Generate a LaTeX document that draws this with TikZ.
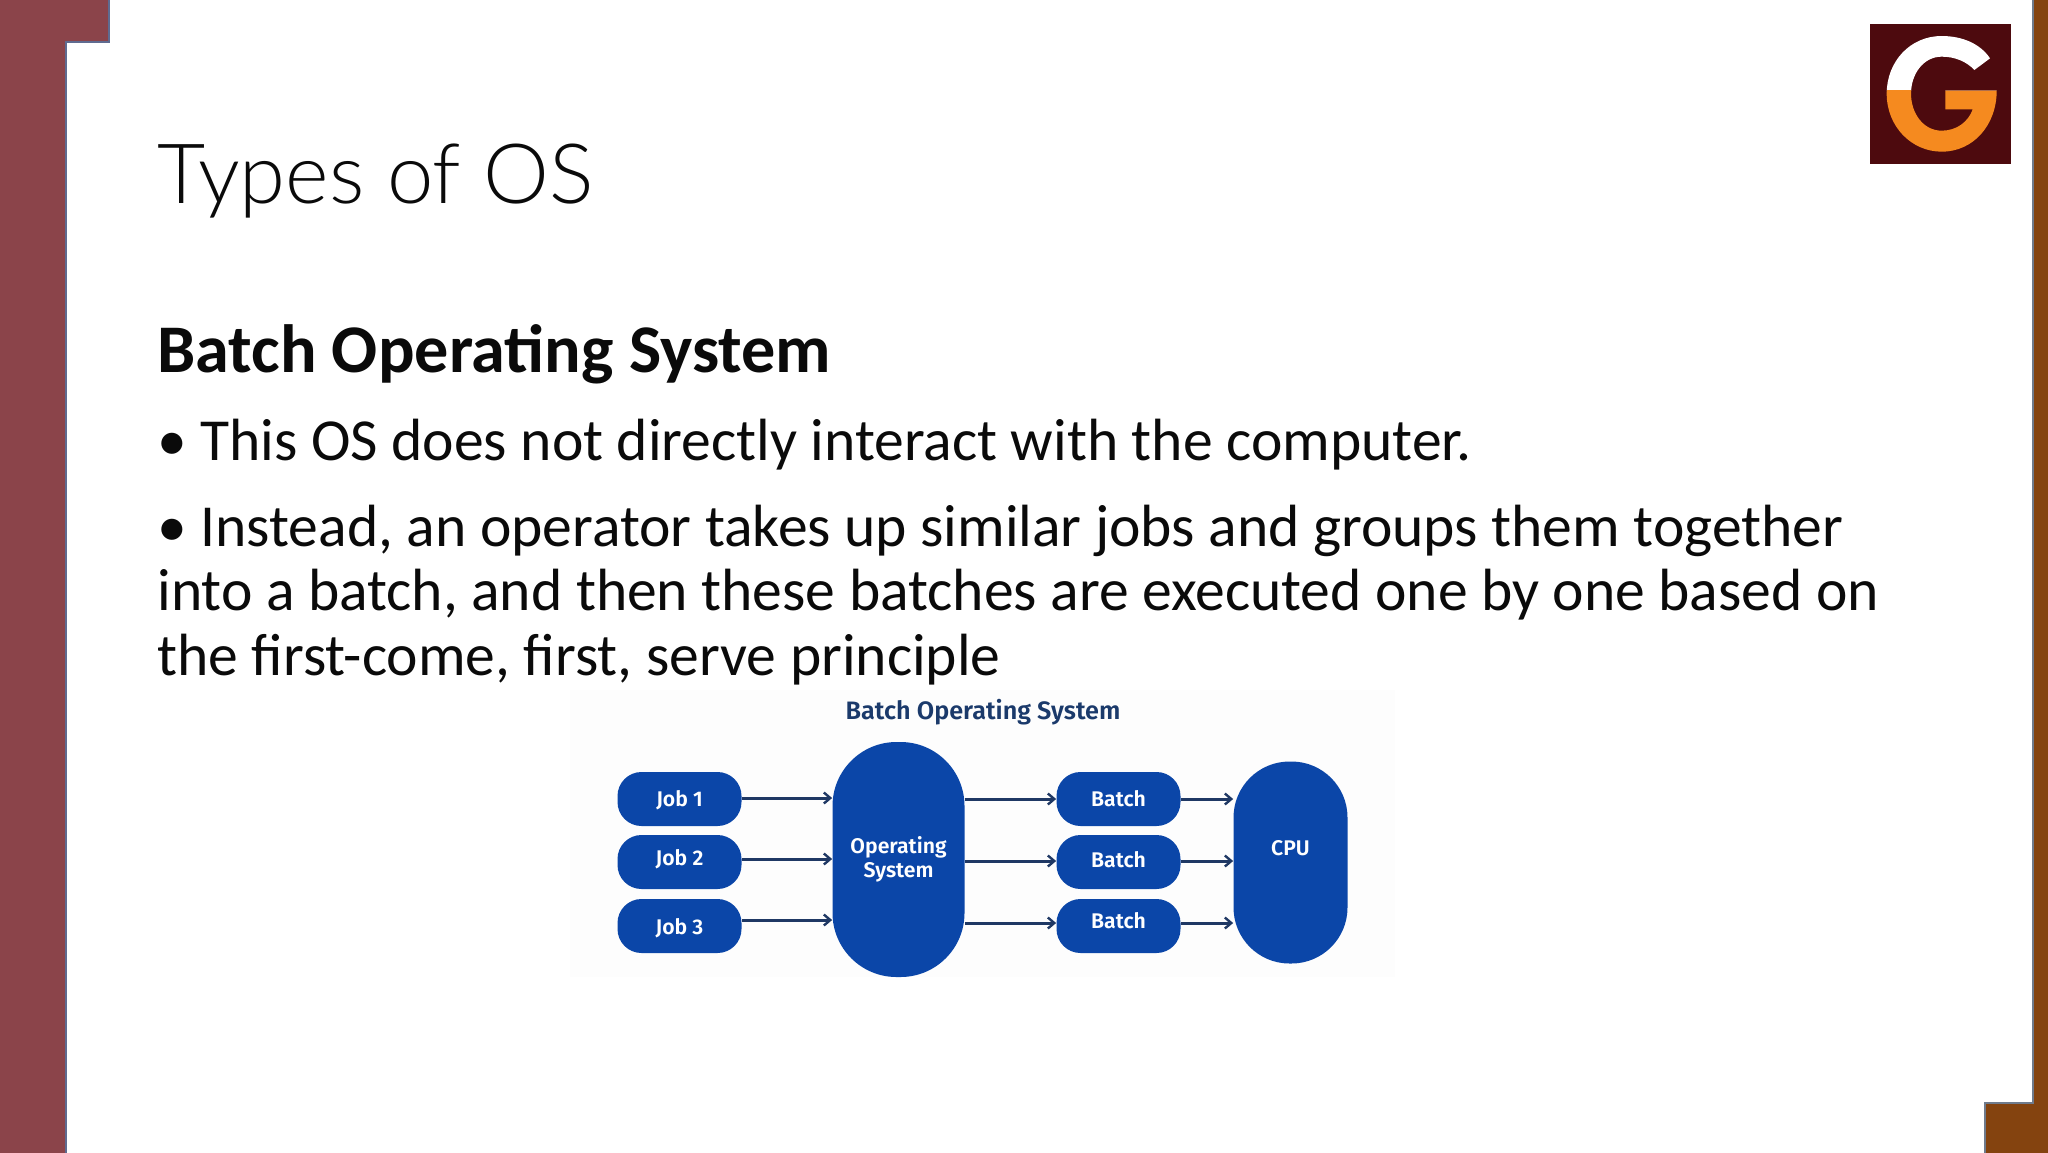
\documentclass[tikz,border=0pt]{standalone}
\usepackage{fontspec}
\setmainfont{Carlito}
\newfontfamily\titlefont{Lato Light}
\newfontfamily\diagfont{Fira Sans SemiBold}
\definecolor{frameL}{HTML}{8B444A}
\definecolor{frameLedge}{HTML}{5F6B90}
\definecolor{frameR}{HTML}{84430F}
\definecolor{frameRedge}{HTML}{6F7B8C}
\definecolor{logobg}{HTML}{4D0A0E}
\definecolor{logoor}{HTML}{F58A1F}
\definecolor{blueB}{HTML}{0B46A8}
\definecolor{navy}{HTML}{1F3864}
\definecolor{headnavy}{HTML}{1B3A6B}
\definecolor{ink}{HTML}{0A0A0A}
\newcommand{\lift}[2]{\raisebox{\dimexpr#1-0.35em\relax}[0pt][0pt]{#2}}
\usetikzlibrary{arrows.meta}
\tikzset{
  x=0.5pt,y=-0.5pt,
  slide/.style={anchor=base west,inner sep=0,text=ink},
  bodytext/.style={slide,font=\fontsize{29.8}{32}\selectfont},
  pill/.style={fill=blueB,inner sep=0,text=white,font=\diagfont\fontsize{10.6}{11.8}\selectfont,rounded corners=12pt,minimum width=62pt,minimum height=27pt},
  tallpill/.style={pill,rounded corners=32pt},
  link/.style={draw=navy,line width=1.5pt,-{Straight Barb[length=3.2pt,width=5.5pt,line width=1.2pt]}},
}
\begin{document}
\begin{tikzpicture}
\useasboundingbox (0,0) rectangle (2048,1152);
\fill[white] (0,0) rectangle (2048,1152);
% frames
\draw[fill=frameL,draw=frameLedge,line width=1pt] (-4,-4) -- (109,-4) -- (109,42) -- (66,42) -- (66,1156) -- (-4,1156) -- cycle;
\draw[fill=frameR,draw=frameRedge,line width=1pt] (2033,-4) -- (2052,-4) -- (2052,1156) -- (1985,1156) -- (1985,1103) -- (2033,1103) -- cycle;
% logo
\fill[logobg] (1870,24) rectangle (2011,164);
\begin{scope}[shift={(1840,0)},x=0.16667pt,y=-0.16667pt]
\def\gpath{(450,175) .. controls (420,130) and (365,108) .. (305,108)
  .. controls (210,108) and (140,185) .. (140,281)
  .. controls (140,380) and (215,455) .. (305,455)
  .. controls (400,455) and (470,375) .. (470,272)
  -- (316,272) -- (316,328) -- (398,328)
  .. controls (385,365) and (350,392) .. (305,392)
  .. controls (250,392) and (213,340) .. (213,281)
  .. controls (213,222) and (250,170) .. (305,170)
  .. controls (345,170) and (380,185) .. (403,210) -- cycle}
\begin{scope}\clip (100,60) rectangle (500,272); \fill[white] \gpath; \end{scope}
\begin{scope}\clip (100,272) rectangle (500,480); \fill[logoor] \gpath; \end{scope}
\end{scope}
% text
\node[slide,font=\titlefont\fontsize{41.6}{46}\selectfont] (title) at (157,203) {Types of OS};
\node[slide,font=\bfseries\fontsize{34.1}{38}\selectfont] (head) at (157,372) {Batch Operating System};
\node[bodytext] (l1) at (157,460.5) {• This OS does not directly interact with the computer.};
\node[bodytext] (l2) at (157,546.5) {• Instead, an operator takes up similar jobs and groups them together};
\node[bodytext] (l3) at (157,610.5) {into a batch, and then these batches are executed one by one based on};
\node[bodytext] (l4) at (157,675) {the first-come, first, serve principle};
% diagram
\fill[white!99.4!black] (570,690) rectangle (1395,977);
\node[inner sep=0,text=headnavy,font=\diagfont\fontsize{12.6}{14}\selectfont] (dtitle) at (983,712) {Batch Operating System};
\node[pill] (j1) at (679.5,799) {\lift{0pt}{Job 1}};
\node[pill] (j2) at (679.5,862) {\lift{2pt}{Job 2}};
\node[pill] (j3) at (679.5,926) {\lift{-0.5pt}{Job 3}};
\node[tallpill,minimum width=66pt,minimum height=117.5pt,align=center] (os) at (898.5,859.5) {Operating\\System};
\node[pill] (b1) at (1118.5,799) {\lift{0pt}{Batch}};
\node[pill] (b2) at (1118.5,862) {\lift{1pt}{Batch}};
\node[pill] (b3) at (1118.5,926) {\lift{2.5pt}{Batch}};
\node[tallpill,rounded corners=28pt,minimum width=57pt,minimum height=101pt] (cpu) at (1290.5,862.5) {\lift{7pt}{CPU}};
\foreach \a/\dy in {j1/-1,j2/-3,j3/-6}{
  \draw[link] ([yshift=\dy*-0.5pt]\a.east) -- ([yshift=\dy*-0.5pt]\a.east -| os.west);
}
\draw[link] (b1.west -| os.east) -- (b1.west);
\draw[link] ([yshift=0.5pt]b2.west -| os.east) -- ([yshift=0.5pt]b2.west);
\draw[link] ([yshift=1.5pt]b3.west -| os.east) -- ([yshift=1.5pt]b3.west);
\draw[link] (b1.east) -- (b1.east -| cpu.west);
\draw[link] ([yshift=0.5pt]b2.east) -- ([yshift=0.5pt]b2.east -| cpu.west);
\draw[link] ([yshift=1.5pt]b3.east) -- ([yshift=1.5pt]b3.east -| cpu.west);
\end{tikzpicture}
\end{document}
